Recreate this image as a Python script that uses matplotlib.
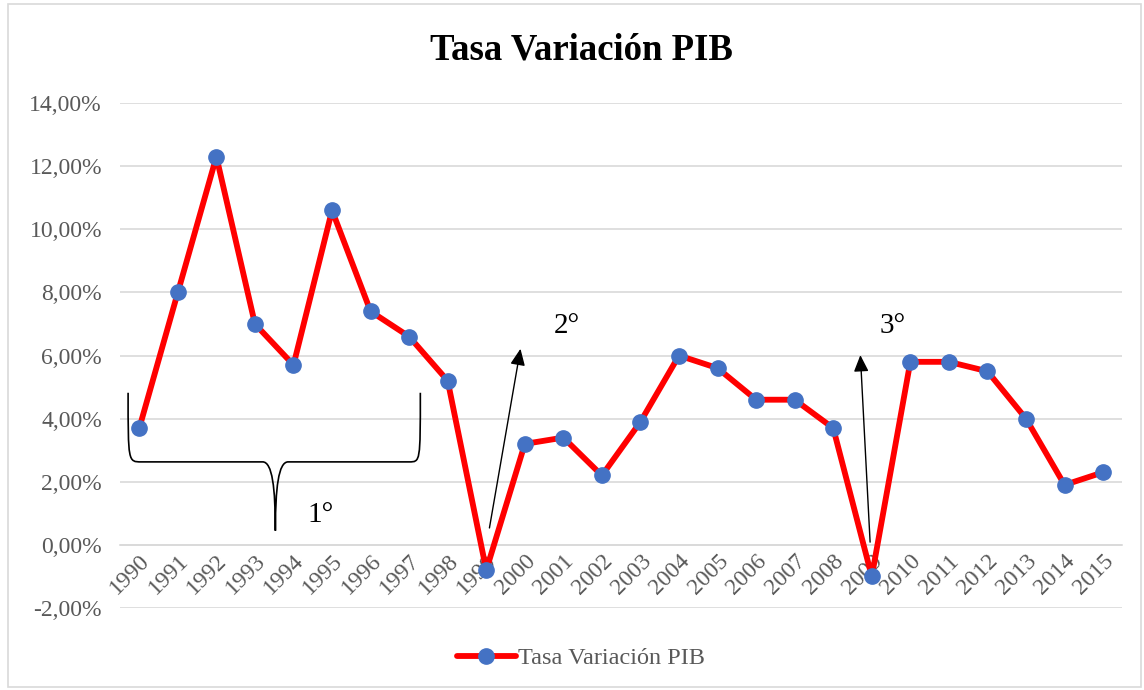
import matplotlib
matplotlib.use("Agg")
import matplotlib.pyplot as plt
from matplotlib.path import Path
from matplotlib.patches import PathPatch, Rectangle
from matplotlib.ticker import FuncFormatter, MultipleLocator

plt.rcParams["font.family"] = ["Liberation Serif", "DejaVu Serif"]

years = [str(y) for y in range(1990, 2016)]
pib = [3.7, 8.0, 12.3, 7.0, 5.7, 10.6, 7.4, 6.6, 5.2, -0.8,
       3.2, 3.4, 2.2, 3.9, 6.0, 5.6, 4.6, 4.6, 3.7, -1.0,
       5.8, 5.8, 5.5, 4.0, 1.9, 2.3]
series_name = "Tasa Variación PIB"

RED = "#FF0000"
BLUE = "#4472C4"
GRID = "#D9D9D9"
TXT = "#595959"

fig = plt.figure(figsize=(11.44, 6.90), dpi=100)
ax = fig.add_axes([0.1049, 0.1188, 0.8762, 0.7319])

x = list(range(len(years)))
ax.plot(x, pib, color=RED, lw=4.2, marker="o", ms=11,
        mfc=BLUE, mec=BLUE, label=series_name, zorder=3, solid_capstyle="round")

ax.set_xlim(-0.5, len(years) - 0.5)
ax.set_ylim(-2, 14)
ax.yaxis.set_major_locator(MultipleLocator(2))
ax.yaxis.set_major_formatter(FuncFormatter(lambda v, p: f"{v:.2f}%".replace(".", ",")))
ax.grid(axis="y", color=GRID, lw=1.2)
ax.set_axisbelow(True)

for s in ["top", "right", "left"]:
    ax.spines[s].set_visible(False)
ax.spines["bottom"].set_position(("data", 0))
ax.spines["bottom"].set_color(GRID)
ax.spines["bottom"].set_linewidth(1.2)

ax.set_xticks(x)
ax.set_xticklabels(years, rotation=45, ha="right", va="top", rotation_mode="anchor")
ax.tick_params(axis="x", length=0, pad=4, labelsize=17, labelcolor=TXT)
ax.tick_params(axis="y", length=0, pad=13, labelsize=17, labelcolor=TXT)

fig.text(0.508, 0.928, "Tasa Variación PIB", ha="center", va="center",
         fontsize=26.5, fontweight="bold")

# brace over the first period
verts = [(-0.29, 4.82), (-0.29, 2.63), (-0.29, 2.63), (0.05, 2.63),
         (3.2, 2.63),
         (3.45, 2.63), (3.53, 1.8), (3.53, 0.45),
         (3.53, 1.8), (3.61, 2.63), (3.86, 2.63),
         (7.0, 2.63),
         (7.29, 2.63), (7.29, 2.63), (7.29, 4.82)]
codes = [Path.MOVETO, Path.CURVE4, Path.CURVE4, Path.CURVE4,
         Path.LINETO,
         Path.CURVE4, Path.CURVE4, Path.CURVE4,
         Path.CURVE4, Path.CURVE4, Path.CURVE4,
         Path.LINETO,
         Path.CURVE4, Path.CURVE4, Path.CURVE4]
ax.add_patch(PathPatch(Path(verts, codes), fill=False, lw=1.2, ec="black", zorder=4))
ax.text(4.7, 0.95, "1°", fontsize=21, ha="center", va="center")

arrow = dict(arrowstyle="-|>,head_length=1.0,head_width=0.45", color="black", lw=1.0)
ax.annotate("", xy=(9.9, 6.3), xytext=(9.07, 0.45), arrowprops=arrow, zorder=4)
ax.text(11.1, 6.95, "2°", fontsize=21, ha="center", va="center")
ax.annotate("", xy=(18.7, 6.1), xytext=(18.96, 0.0), arrowprops=arrow, zorder=4)
ax.text(19.55, 6.95, "3°", fontsize=21, ha="center", va="center")

leg = fig.legend(loc="center", bbox_to_anchor=(0.508, 0.046), frameon=False,
                 fontsize=17.5, handlelength=2.4, handletextpad=0.1)
for t in leg.get_texts():
    t.set_color(TXT)

fig.add_artist(Rectangle((0.007, 0.004), 0.99, 0.99, transform=fig.transFigure,
                         fill=False, ec=GRID, lw=1.2))

fig.savefig("out.png", dpi=100)
